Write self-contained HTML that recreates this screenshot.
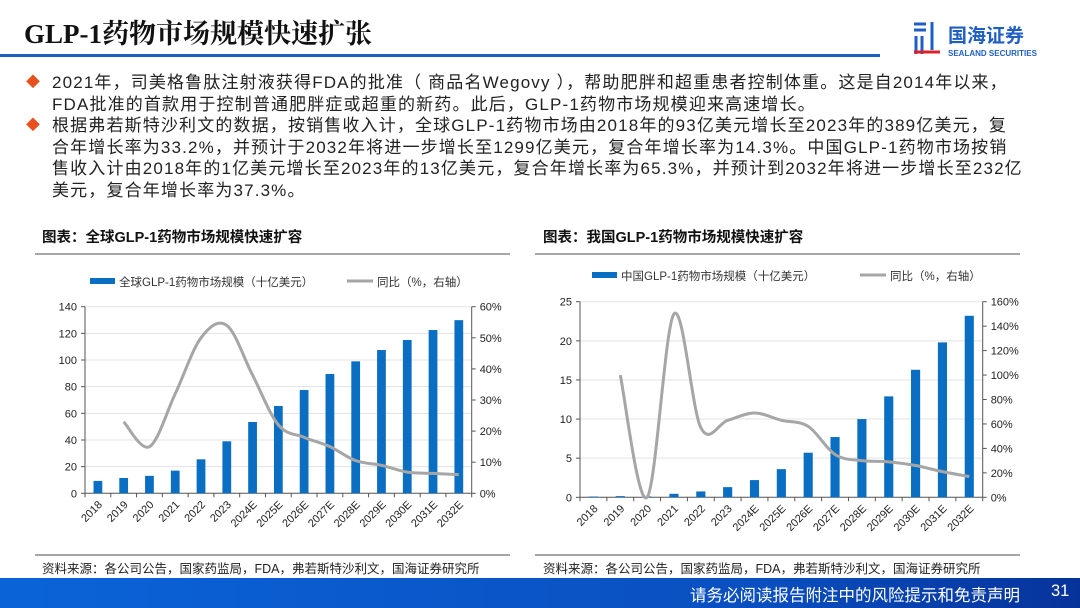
<!DOCTYPE html>
<html><head><meta charset="utf-8">
<style>
body{margin:0;width:1080px;height:608px;overflow:hidden;background:#fff;font-family:"Liberation Sans","Noto Sans CJK SC",sans-serif;}
svg text{font-family:"Liberation Sans","Noto Sans CJK SC",sans-serif;}
.t{position:absolute;}
.ln{white-space:nowrap;letter-spacing:1.15px;}
</style></head><body>
<div style="position:relative;width:1080px;height:608px;">
<div class="t" style="left:24px;top:12px;font-size:27px;font-weight:bold;font-family:'Liberation Serif','Noto Serif CJK SC',serif;color:#111;">GLP-1药物市场规模快速扩张</div>
<div class="t" style="left:0;top:54px;width:880px;height:3px;background:#1d5fbf;"></div>
<div class="t" style="left:912px;top:18px;width:150px;height:44px;">
<svg width="150" height="44"><g fill="none" stroke="#1f5fc4" stroke-width="3"><path d="M2 6h12M2 12h12M4 18v18M10 18v18"/><path d="M20 4v28"/></g><path d="M2 34h26" stroke="#d8222a" stroke-width="3"/><text x="36" y="24" font-size="19" font-weight="bold" fill="#1f5fc4">国海证券</text><text x="36" y="38" font-size="8" font-weight="bold" fill="#1f5fc4">SEALAND SECURITIES</text></svg></div>
<div class="t" style="left:24px;top:72px;width:1040px;font-size:17px;line-height:21.5px;color:#222;">
<div style="position:relative;padding-left:28px;"><span style="position:absolute;left:2px;top:0;color:#e8501e;font-size:14px;">◆</span><div class="ln">2021年，司美格鲁肽注射液获得FDA的批准（ 商品名Wegovy ），帮助肥胖和超重患者控制体重。这是自2014年以来，</div><div class="ln">FDA批准的首款用于控制普通肥胖症或超重的新药。此后，GLP-1药物市场规模迎来高速增长。</div></div>
<div style="position:relative;padding-left:28px;"><span style="position:absolute;left:2px;top:0;color:#e8501e;font-size:14px;">◆</span><div class="ln">根据弗若斯特沙利文的数据，按销售收入计，全球GLP-1药物市场由2018年的93亿美元增长至2023年的389亿美元，复</div><div class="ln">合年增长率为33.2%，并预计于2032年将进一步增长至1299亿美元，复合年增长率为14.3%。中国GLP-1药物市场按销</div><div class="ln">售收入计由2018年的1亿美元增长至2023年的13亿美元，复合年增长率为65.3%，并预计到2032年将进一步增长至232亿</div><div class="ln">美元，复合年增长率为37.3%。</div></div>
</div>
<svg id="charts" width="1080" height="608" style="position:absolute;left:0;top:0;"></svg>
<div class="t" style="left:0;top:578px;width:1080px;height:30px;background:linear-gradient(90deg,#0a64d8,#0a4fc0 70%,#06339a);"></div>
<div class="t" style="left:690px;top:582px;font-size:16.5px;color:#fff;">请务必阅读报告附注中的风险提示和免责声明</div>
<div class="t" style="left:1051px;top:582px;font-size:16.5px;color:#fff;">31</div>
</div>
<script>
const years=["2018","2019","2020","2021","2022","2023","2024E","2025E","2026E","2027E","2028E","2029E","2030E","2031E","2032E"];
const globalSize=[9.3,11.5,13.1,17,25.5,39,53.5,65.5,77.5,89.5,99,107.5,115,122.5,129.9];
const globalYoY=[null,23,15,32,50,54,38,22,18,15,10.5,9,6.8,6.4,6];
const chinaSize=[0.1,0.15,0.1,0.45,0.75,1.3,2.2,3.6,5.7,7.7,10,12.9,16.3,19.8,23.2];
const chinaYoY=[null,100,0,150,57,63,69,63,58,35,30,29,26,21,17];
const gTicksL=[0,20,40,60,80,100,120,140];
const gTicksR=[0,10,20,30,40,50,60];
const cTicksL=[0,5,10,15,20,25];
const cTicksR=[0,20,40,60,80,100,120,140,160];

const NS="http://www.w3.org/2000/svg";
const svg=document.getElementById('charts');
function mk(tag,attrs,parent){const e=document.createElementNS(NS,tag);for(const k in attrs)e.setAttribute(k,attrs[k]);(parent||svg).appendChild(e);return e;}
function txt(x,y,s,size,attrs,parent){const e=mk('text',Object.assign({x:x,y:y,'font-size':size,fill:'#222'},attrs||{}),parent);e.textContent=s;return e;}

function chart(o){
  const g=mk('g',{});
  
  
  const cap=txt(o.capX,242,o.caption,14.5,{'font-weight':'bold',fill:'#111'},g);
  
  
  mk('line',{x1:o.ruleX1,x2:o.ruleX2,y1:254,y2:254,stroke:'#888','stroke-width':1.5},g);
  mk('line',{x1:o.ruleX1,x2:o.ruleX2,y1:555,y2:555,stroke:'#888','stroke-width':1.5},g);
  const src=txt(o.capX,573,'资料来源：各公司公告，国家药监局，FDA，弗若斯特沙利文，国海证券研究所',12.5,{fill:'#222'},g);
  
  
  const x0=o.x0,x1=o.x1,yb=o.yb,yt=o.yt;
  const n=years.length,step=(x1-x0)/n;
  const yL=v=>yb-(v/o.maxL)*(yb-yt);
  const yR=v=>yb-(v/o.maxR)*(yb-yt);
  const xc=i=>x0+step*(i+0.5);
  o.ticksL.forEach(t=>{
    if(t>0)mk('line',{x1:x0,x2:x1,y1:yL(t),y2:yL(t),stroke:'#e3e3e3','stroke-width':1},g);
    mk('line',{x1:x0-4,x2:x0,y1:yL(t),y2:yL(t),stroke:'#555'},g);
    txt(x0-8,yL(t)+4,String(t),11,{'text-anchor':'end'},g);
  });
  o.ticksR.forEach(t=>{
    mk('line',{x1:x1,x2:x1+4,y1:yR(t),y2:yR(t),stroke:'#555'},g);
    txt(x1+8,yR(t)+4,t+'%',11,{},g);
  });
  mk('line',{x1:x0,x2:x0,y1:yt,y2:yb,stroke:'#555'},g);
  mk('line',{x1:x1,x2:x1,y1:yt,y2:yb,stroke:'#555'},g);
  mk('line',{x1:x0,x2:x1,y1:yb,y2:yb,stroke:'#555'},g);
  for(let i=0;i<=n;i++)mk('line',{x1:x0+step*i,x2:x0+step*i,y1:yb,y2:yb+4,stroke:'#555'},g);
  const bw=step*0.34;
  o.size.forEach((v,i)=>{
    const r=mk('rect',{x:xc(i)-bw/2,y:yL(v),width:bw,height:yb-yL(v),fill:'#0a6fc2'},g);
    
    
  });
  years.forEach((yv,i)=>{
    txt(0,0,yv,11,{'text-anchor':'end',transform:`translate(${xc(i)+5},${yb+12}) rotate(-45)`},g);
  });
  const pts=[];o.yoy.forEach((v,i)=>{if(v!==null)pts.push([xc(i),yR(v)]);});
  let d='M'+pts[0][0]+','+pts[0][1];
  for(let i=0;i<pts.length-1;i++){
    const p0=pts[i-1]||pts[i],p1=pts[i],p2=pts[i+1],p3=pts[i+2]||p2;
    const c1=[p1[0]+(p2[0]-p0[0])/6,p1[1]+(p2[1]-p0[1])/6];
    const c2=[p2[0]-(p3[0]-p1[0])/6,p2[1]-(p3[1]-p1[1])/6];
    d+=` C${c1[0]},${c1[1]} ${c2[0]},${c2[1]} ${p2[0]},${p2[1]}`;
  }
  const ln=mk('path',{d:d,fill:'none',stroke:'#a6a6a6','stroke-width':3},g);
  
  
  const lg=mk('g',{},g);
  
  
  mk('rect',{x:o.legX,y:o.legY-5,width:25,height:6,fill:'#0a6fc2'},lg);
  txt(o.legX+29,o.legY+3,o.legText,11.5,{fill:'#333'},lg);
  mk('line',{x1:o.leg2X,x2:o.leg2X+26,y1:o.legY-2,y2:o.legY-2,stroke:'#a6a6a6','stroke-width':3},lg);
  txt(o.leg2X+30,o.legY+3,'同比（%，右轴）',11.5,{fill:'#333'},lg);
}
chart({name:'global-glp1-chart',caption:'图表：全球GLP-1药物市场规模快速扩容',capX:42,ruleX1:35,ruleX2:510,
  x0:85,x1:471.7,yb:493.3,yt:306.7,maxL:140,maxR:60,ticksL:gTicksL,ticksR:gTicksR,size:globalSize,yoy:globalYoY,
  legX:90,legY:283,legText:'全球GLP-1药物市场规模（十亿美元）',leg2X:347});
chart({name:'china-glp1-chart',caption:'图表：我国GLP-1药物市场规模快速扩容',capX:543,ruleX1:535,ruleX2:1020,
  x0:580,x1:982.7,yb:497.3,yt:301.7,maxL:25,maxR:160,ticksL:cTicksL,ticksR:cTicksR,size:chinaSize,yoy:chinaYoY,
  legX:592,legY:277,legText:'中国GLP-1药物市场规模（十亿美元）',leg2X:860});
</script>
</body></html>
